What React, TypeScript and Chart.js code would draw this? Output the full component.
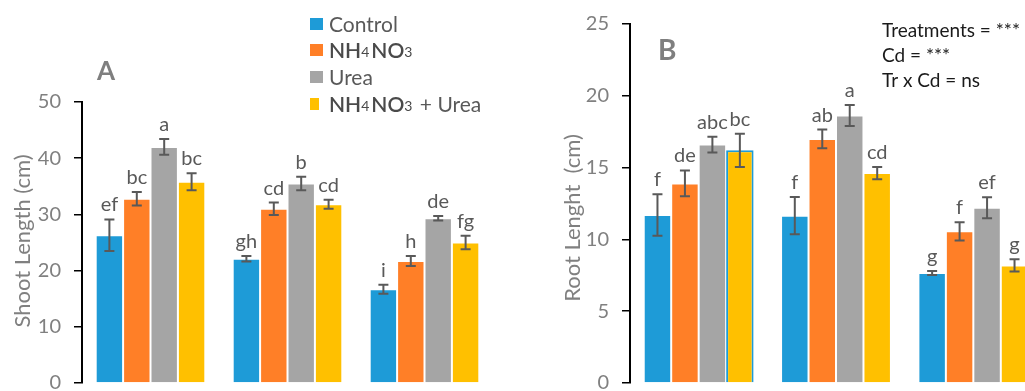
import React, { useEffect, useRef } from 'react';
import { Chart, registerables } from 'chart.js';

Chart.register(...registerables);

// ---------- DATA ----------
const groups = ['Cd 0', 'Cd 1', 'Cd 2'];
const treatments = ['Control', 'NH4NO3', 'Urea', 'NH4NO3 + Urea'];
const colors = ['#1E9BD7', '#FF7F27', '#A5A5A5', '#FFC000'];

// Panel A: Shoot length (cm)
const shootControl = [26.3, 22.1, 16.7];
const shootNH4NO3 = [32.8, 31.0, 21.7];
const shootUrea = [42.0, 35.5, 29.3];
const shootMix = [35.8, 31.8, 25.0];
const shootControlErr = [2.8, 0.5, 0.8];
const shootNH4NO3Err = [1.2, 1.1, 0.9];
const shootUreaErr = [1.4, 1.2, 0.4];
const shootMixErr = [1.5, 0.8, 1.2];
const shootLetters = [
  ['ef', 'gh', 'i'],
  ['bc', 'cd', 'h'],
  ['a', 'b', 'de'],
  ['bc', 'cd', 'fg'],
];
const shootTicks = [0, 10, 20, 30, 40, 50];

// Panel B: Root length (cm)
const rootControl = [11.7, 11.65, 7.66];
const rootNH4NO3 = [13.9, 17.0, 10.56];
const rootUrea = [16.6, 18.63, 12.2];
const rootMix = [16.2, 14.62, 8.19];
const rootControlErr = [1.45, 1.3, 0.14];
const rootNH4NO3Err = [0.9, 0.65, 0.64];
const rootUreaErr = [0.55, 0.73, 0.73];
const rootMixErr = [1.15, 0.43, 0.43];
const rootLetters = [
  ['f', 'f', 'g'],
  ['de', 'ab', 'f'],
  ['abc', 'a', 'ef'],
  ['bc', 'cd', 'g'],
];
const rootTicks = [0, 5, 10, 15, 20, 25];

const statsLines = ['Treatments = ***', 'Cd = ***', 'Tr x Cd = ns'];

// ---------- HELPERS ----------
const FONT = 'Lato, "Open Sans", sans-serif';

function drawChemText(ctx: CanvasRenderingContext2D, text: string, x: number, y: number, size: number) {
  let cx = x;
  const parts = text.match(/(\d+|[^\d]+)/g) || [];
  for (const p of parts) {
    const isSub = /^\d+$/.test(p);
    const hasChem = /NH|NO/.test(p);
    ctx.font = `${hasChem ? 600 : 400} ${isSub ? Math.round(size * 0.68) : size}px ${FONT}`;
    ctx.fillStyle = hasChem || isSub ? '#4a4a4a' : '#595959';
    ctx.fillText(p, cx, isSub ? y + 1 : y);
    cx += ctx.measureText(p).width + (isSub ? 2 : 0);
  }
}

function marksPlugin(errs: number[][], letters: string[][]) {
  return {
    id: 'marks',
    afterDatasetsDraw(chart: any) {
      const ctx = chart.ctx as CanvasRenderingContext2D;
      const ys = chart.scales.y;
      chart.data.datasets.forEach((ds: any, i: number) => {
        const meta = chart.getDatasetMeta(i);
        meta.data.forEach((bar: any, j: number) => {
          const v = ds.data[j] as number;
          const e = errs[i][j];
          const x = bar.x;
          const yt = ys.getPixelForValue(v + e);
          const yb = ys.getPixelForValue(v - e);
          ctx.save();
          ctx.strokeStyle = '#595959';
          ctx.lineWidth = 2;
          ctx.beginPath();
          ctx.moveTo(x, yt);
          ctx.lineTo(x, yb);
          ctx.moveTo(x - 5, yt);
          ctx.lineTo(x + 5, yt);
          ctx.moveTo(x - 5, yb);
          ctx.lineTo(x + 5, yb);
          ctx.stroke();
          ctx.fillStyle = '#595959';
          ctx.font = `20px ${FONT}`;
          ctx.textAlign = 'center';
          ctx.textBaseline = 'alphabetic';
          ctx.fillText(letters[i][j], x, yt - 8);
          ctx.restore();
        });
      });
    },
  };
}

function makeDatasets(values: number[][], borders?: (string[] | string)[], widths?: (number[] | number)[]) {
  return values.map((vals, i) => ({
    label: treatments[i],
    data: vals,
    backgroundColor: colors[i],
    borderColor: borders ? borders[i] : 'rgba(255,255,255,0.6)',
    borderWidth: widths ? widths[i] : 1,
    categoryPercentage: 0.8,
    barPercentage: 1.0,
  }));
}

function yScale(max: number, step: number, width: number) {
  return {
    min: 0,
    max,
    afterFit: (s: any) => {
      s.width = width;
      s.paddingTop = 0;
      s.paddingBottom = 0;
    },
    afterBuildTicks: (s: any) => {
      const list = max === 50 ? shootTicks : rootTicks;
      s.ticks = list.map((v) => ({ value: v }));
    },
    ticks: { stepSize: step, color: '#808080', font: { family: FONT, size: 20 }, padding: 13 },
    grid: {
      display: true,
      drawOnChartArea: false,
      drawTicks: true,
      tickLength: 8,
      color: '#000',
      tickColor: '#000',
      lineWidth: 1.5,
    },
    border: { display: true, color: '#000', width: 2 },
    title: { display: false },
  };
}

function useChart(ref: React.RefObject<HTMLCanvasElement | null>, makeConfig: () => any) {
  useEffect(() => {
    if (!ref.current) return;
    const chart = new Chart(ref.current, makeConfig());
    return () => chart.destroy();
  }, []);
}

export default function App() {
  const refA = useRef<HTMLCanvasElement>(null);
  const refB = useRef<HTMLCanvasElement>(null);

  useChart(refA, () => ({
    type: 'bar',
    data: {
      labels: groups,
      datasets: makeDatasets([shootControl, shootNH4NO3, shootUrea, shootMix]),
    },
    options: {
      responsive: false,
      animation: false,
      devicePixelRatio: 1,
      layout: { padding: { left: 0, top: 102, right: 27, bottom: 8 } },
      plugins: { legend: { display: false }, tooltip: { enabled: false }, title: { display: false } },
      scales: {
        x: { display: false },
        y: yScale(50, 10, 82),
      },
    },
    plugins: [
      marksPlugin([shootControlErr, shootNH4NO3Err, shootUreaErr, shootMixErr], shootLetters),
      {
        id: 'decorA',
        afterDraw(chart: any) {
          const ctx = chart.ctx as CanvasRenderingContext2D;
          ctx.save();
          // panel letter
          ctx.fillStyle = '#7f7f7f';
          ctx.font = `bold 26px ${FONT}`;
          ctx.textAlign = 'left';
          ctx.textBaseline = 'alphabetic';
          ctx.fillText('A', 97, 80);
          // axis title
          ctx.save();
          ctx.translate(30, 241);
          ctx.rotate(-Math.PI / 2);
          ctx.textAlign = 'center';
          ctx.fillStyle = '#808080';
          ctx.font = `22px ${FONT}`;
          ctx.fillText('Shoot Length (cm)', 0, 0);
          ctx.restore();
          // legend
          const rowY = [24, 50, 77, 104];
          treatments.forEach((t, i) => {
            ctx.fillStyle = colors[i];
            ctx.fillRect(310, rowY[i] - 6, i === 3 ? 9 : 13, 12);
            ctx.textAlign = 'left';
            ctx.textBaseline = 'middle';
            drawChemText(ctx, t, 329, rowY[i] + 1, 21);
          });
          ctx.restore();
        },
      },
    ],
  }));

  useChart(refB, () => ({
    type: 'bar',
    data: {
      labels: groups,
      datasets: makeDatasets(
        [rootControl, rootNH4NO3, rootUrea, rootMix],
        [
          'rgba(255,255,255,0.6)',
          'rgba(255,255,255,0.6)',
          'rgba(255,255,255,0.6)',
          ['#1E9BD7', 'rgba(255,255,255,0.6)', 'rgba(255,255,255,0.6)'],
        ],
        [1, 1, 1, [2, 1, 1]]
      ),
    },
    options: {
      responsive: false,
      animation: false,
      devicePixelRatio: 1,
      layout: { padding: { left: 0, top: 24, right: 18, bottom: 8 } },
      plugins: { legend: { display: false }, tooltip: { enabled: false }, title: { display: false } },
      scales: {
        x: { display: false },
        y: yScale(25, 5, 100),
      },
    },
    plugins: [
      marksPlugin([rootControlErr, rootNH4NO3Err, rootUreaErr, rootMixErr], rootLetters),
      {
        id: 'decorB',
        afterDraw(chart: any) {
          const ctx = chart.ctx as CanvasRenderingContext2D;
          ctx.save();
          ctx.fillStyle = '#7f7f7f';
          ctx.font = `bold 28px ${FONT}`;
          ctx.textAlign = 'left';
          ctx.textBaseline = 'alphabetic';
          ctx.fillText('B', 128, 60);
          ctx.save();
          ctx.translate(50, 218);
          ctx.rotate(-Math.PI / 2);
          ctx.textAlign = 'center';
          ctx.fillStyle = '#808080';
          ctx.font = `22px ${FONT}`;
          ctx.fillText('Root Lenght  (cm)', 0, 0);
          ctx.restore();
          ctx.fillStyle = '#1a1a1a';
          ctx.font = `19px ${FONT}`;
          statsLines.forEach((line, i) => {
            ctx.fillText(line, 352, 37 + i * 25);
          });
          ctx.restore();
        },
      },
    ],
  }));

  return (
    <div
      style={{
        position: 'fixed',
        left: 0,
        top: 0,
        width: 1025,
        height: 391,
        overflow: 'hidden',
        background: '#fff',
      }}
    >
      <canvas
        ref={refA}
        width={520}
        height={391}
        style={{ position: 'absolute', left: 0, top: 0, width: 520, height: 391 }}
      />
      <canvas
        ref={refB}
        width={530}
        height={391}
        style={{ position: 'absolute', left: 530, top: 0, width: 530, height: 391 }}
      />
    </div>
  );
}
